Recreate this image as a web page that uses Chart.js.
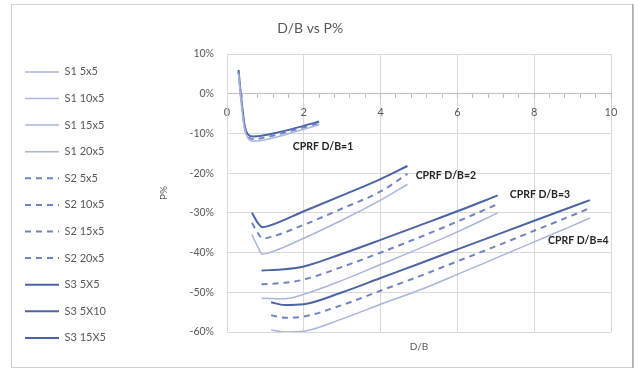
<!DOCTYPE html>
<html>
<head>
<meta charset="utf-8">
<script src="https://cdn.jsdelivr.net/npm/chart.js@4"></script>
<style>
  html, body { margin: 0; padding: 0; background: #fff; }
  #wrap { width: 639px; height: 371px; position: relative; }
</style>
</head>
<body>
<div id="wrap"><canvas id="myChart" width="639" height="371"></canvas></div>
<script>
// series names (last one is not in the legend)
const seriesNames = ['S1 5x5', 'S1 10x5', 'S1 15x5', 'S1 20x5',
                     'S2 5x5', 'S2 10x5', 'S2 15x5', 'S2 20x5',
                     'S3 5X5', 'S3 5X10', 'S3 15X5', 'S3 20X5'];

// D/B values for each CPRF group
const xGroup1 = [0.3, 0.38, 0.46, 0.55, 0.7, 0.9, 1.3, 1.8, 2.4];
const xGroup2 = [0.65, 0.8, 0.92, 1.05, 2, 3, 4, 4.7];
const xGroup3 = [0.9, 1.5, 2, 3, 4, 5, 6, 7.05];
const xGroup4 = [1.15, 1.5, 2, 3, 4, 5, 6, 7, 8, 9, 9.45];

// P% values
const s1_5x5  = [5, -3, -9, -11.3, -12, -11.8, -10.9, -9.5, -7.8];
const s1_10x5 = [-35.5, -38.5, -40.4, -40.2, -36.4, -31.8, -26.8, -22.8];
const s1_15x5 = [-51.5, -51.6, -50.5, -47, -43, -39, -34.8, -30];
const s1_20x5 = [-59.5, -60, -59.8, -56.7, -53, -49.5, -45.5, -41.4, -37.3, -33.2, -31.3];

const s2_5x5  = [5.5, -2.5, -8.5, -10.8, -11.4, -11.2, -10.3, -9, -7.4];
const s2_10x5 = [-32.5, -35, -36.4, -36.3, -33, -28.9, -24.6, -20.2];
const s2_15x5 = [-48, -47.6, -46.8, -43.6, -40, -36.2, -32.2, -27.8];
const s2_20x5 = [-55.8, -56.4, -56.1, -53.2, -49.6, -46, -42.2, -38.4, -34.5, -30.6, -28.8];

const s3_5x5  = [6, -2, -8, -10.3, -10.8, -10.6, -9.8, -8.6, -7];
const s3_5x10 = [-30, -32.5, -33.6, -33.4, -29.6, -25.6, -21.5, -18.2];
const s3_15x5 = [-44.5, -44.2, -43.5, -40.3, -36.8, -33.2, -29.6, -25.6];
const s3_20x5 = [-52.5, -53.2, -53, -50, -46.4, -42.8, -39.2, -35.6, -32, -28.4, -26.8];

// axis ticks
const yTicks = [-60, -50, -40, -30, -20, -10, 0, 10];
const xMajor = [0, 2, 4, 6, 8, 10];

// group labels
const noteText = ['CPRF D/B=1', 'CPRF D/B=2', 'CPRF D/B=3', 'CPRF D/B=4'];
const noteX = [2.5, 5.7, 8.15, 9.15];
const noteY = [-13.2, -20.5, -25.5, -37.1];

const xGroups = [xGroup1, xGroup2, xGroup3, xGroup4];
const values = [s1_5x5, s1_10x5, s1_15x5, s1_20x5,
                s2_5x5, s2_10x5, s2_15x5, s2_20x5,
                s3_5x5, s3_5x10, s3_15x5, s3_20x5];

const FONT = 'Lato, "Open Sans", sans-serif';
const GREY = '#595959';

function lineStyle(i) {
  if (i < 4) return { borderColor: '#a9b6dc', borderWidth: 1.5, borderDash: [] };
  if (i < 8) return { borderColor: '#6f85c3', borderWidth: 2, borderDash: [6, 5] };
  return { borderColor: '#4c64a6', borderWidth: 2, borderDash: [] };
}

const datasets = seriesNames.map((name, i) => {
  const xs = xGroups[i % 4];
  return Object.assign({
    label: name,
    data: values[i].map((v, k) => ({ x: xs[k], y: v })),
    pointRadius: 0,
    fill: false,
    cubicInterpolationMode: 'monotone'
  }, lineStyle(i));
});

// frame round the whole chart
const framePlugin = {
  id: 'frame',
  beforeDraw(chart) {
    const c = chart.ctx;
    c.save();
    c.strokeStyle = '#d0d0d0';
    c.lineWidth = 1;
    c.strokeRect(11.5, 4.5, 621, 363);
    c.strokeStyle = '#8c8c8c';
    c.beginPath();
    c.moveTo(633, 4);
    c.lineTo(633, 368);
    c.stroke();
    c.restore();
  }
};

// CPRF text labels
const notesPlugin = {
  id: 'notes',
  afterDatasetsDraw(chart) {
    const c = chart.ctx;
    const xs = chart.scales.x, ys = chart.scales.y;
    c.save();
    c.font = 'bold 10.5px ' + FONT;
    c.fillStyle = '#262626';
    c.textAlign = 'center';
    c.textBaseline = 'middle';
    noteText.forEach((t, i) => {
      c.fillText(t, xs.getPixelForValue(noteX[i]), ys.getPixelForValue(noteY[i]));
    });
    c.restore();
  }
};

const isMajor = v => xMajor.some(m => Math.abs(m - v) < 1e-6);

// legend samples take the line style of the dataset
function legendLabels(chart) {
  const items = Chart.defaults.plugins.legend.labels.generateLabels(chart);
  items.forEach(it => {
    const ds = chart.data.datasets[it.datasetIndex];
    it.lineDash = ds.borderDash;
    it.lineWidth = ds.borderWidth;
    it.strokeStyle = ds.borderColor;
  });
  return items;
}

const ctx = document.getElementById('myChart').getContext('2d');
const myChart = new Chart(ctx, {
  type: 'line',
  data: { datasets: datasets },
  plugins: [framePlugin, notesPlugin],
  options: {
    responsive: false,
    animation: false,
    layout: { padding: { left: 9.4, right: 28, top: 0, bottom: 12 } },
    scales: {
      x: {
        type: 'linear',
        axis: 'x',
        position: { y: 0 },
        min: 0,
        max: 10,
        ticks: {
          stepSize: 0.4,
          autoSkip: false,
          maxRotation: 0,
          padding: 8,
          color: GREY,
          font: { family: FONT, size: 11 },
          callback: v => isMajor(v) ? String(Math.round(v)) : ''
        },
        grid: {
          color: c => isMajor(c.tick.value) ? '#d9d9d9' : 'rgba(0,0,0,0)',
          tickColor: '#bfbfbf',
          tickLength: 4
        },
        border: { color: '#bfbfbf' }
      },
      x2: {
        type: 'linear',
        position: 'bottom',
        grid: { display: false, drawTicks: false },
        border: { display: false },
        ticks: { display: false },
        title: {
          display: true,
          text: 'D/B',
          color: GREY,
          font: { family: FONT, size: 10 },
          padding: { top: 9, bottom: 6 }
        }
      },
      y: {
        min: -60,
        max: 10,
        afterBuildTicks: s => { s.ticks = yTicks.map(v => ({ value: v })); },
        afterFit: s => { s.width = 227 - 9.4 - s.chart.legend.width; },
        ticks: {
          padding: 13,
          color: GREY,
          font: { family: FONT, size: 10.5 },
          callback: v => v + '%'
        },
        grid: { color: '#d9d9d9', drawTicks: false },
        border: { color: '#d9d9d9' },
        title: {
          display: true,
          text: 'P%',
          color: GREY,
          font: { family: FONT, size: 10 },
          padding: { top: 42, bottom: 0 }
        }
      }
    },
    plugins: {
      title: {
        display: true,
        text: 'D/B vs P%',
        color: GREY,
        font: { family: FONT, size: 14, weight: 'normal' },
        padding: { top: 19.6, bottom: 17.6 }
      },
      legend: {
        position: 'left',
        align: 'end',
        labels: {
          usePointStyle: true,
          pointStyle: 'line',
          pointStyleWidth: 34,
          padding: 15.6,
          color: GREY,
          font: { family: FONT, size: 11 },
          filter: item => item.datasetIndex < 11,
          generateLabels: legendLabels
        }
      },
      tooltip: { enabled: false }
    }
  }
});
</script>
</body>
</html>
